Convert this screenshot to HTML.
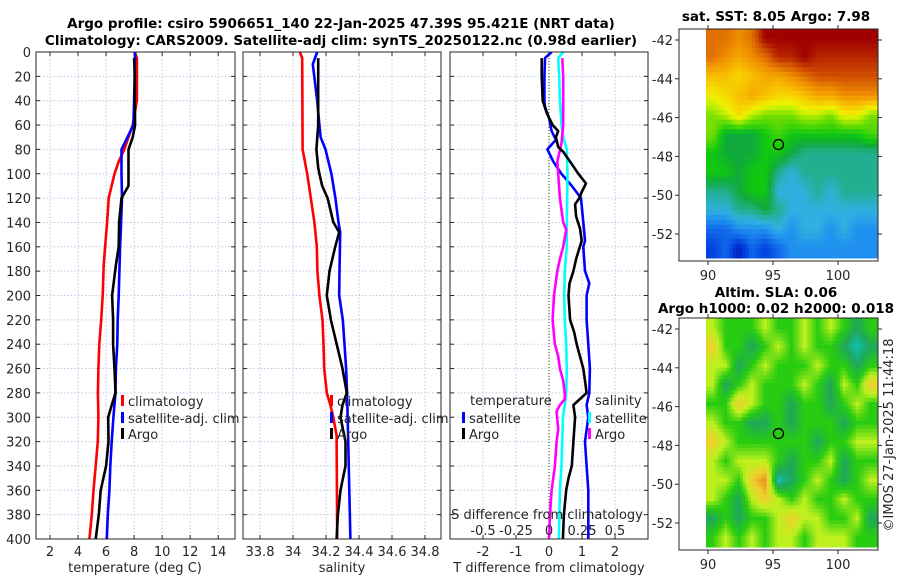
<!DOCTYPE html>
<html><head><meta charset="utf-8">
<style>
html,body{margin:0;padding:0;background:#fff;}
svg{display:block;font-family:"DejaVu Sans","Liberation Sans",sans-serif;}
.tk{font-size:13px;fill:#262626;}
.ti{font-size:13.5px;font-weight:bold;fill:#000;}
</style></head>
<body>
<svg id="fig" width="900" height="580" viewBox="0 0 900 580" xmlns="http://www.w3.org/2000/svg">
<text class="ti" x="341" y="28" text-anchor="middle">Argo profile: csiro 5906651_140 22-Jan-2025 47.39S 95.421E (NRT data)</text>
<text class="ti" x="341" y="45" text-anchor="middle">Climatology: CARS2009. Satellite-adj clim: synTS_20250122.nc (0.98d earlier)</text>
<text class="ti" x="776" y="21" text-anchor="middle">sat. SST: 8.05 Argo: 7.98</text>
<text class="ti" x="776" y="297" text-anchor="middle">Altim. SLA: 0.06</text>
<text class="ti" x="776" y="313" text-anchor="middle">Argo h1000: 0.02 h2000: 0.018</text>
<text class="tk" transform="translate(893,435) rotate(-90)" text-anchor="middle">©IMOS 27-Jan-2025 11:44:18</text>
<g id="layer"></g>
</svg>
<script>
// ---- profile data ----
const depthTicks=[0,20,40,60,80,100,120,140,160,180,200,220,240,260,280,300,320,340,360,380,400];
const tTicks=[2,4,6,8,10,12,14];
const sTicks=[33.8,34,34.2,34.4,34.6,34.8];
const sTickLabels=["33.8","34","34.2","34.4","34.6","34.8"];
const dTicks=[-2,-1,0,1,2];
const sdTickLabels=["-0.5","-0.25","0","0.25","0.5"];
const sdTicks=[-0.5,-0.25,0,0.25,0.5];

const tClimDepth=[0,5,40,60,80,90,100,120,140,160,175,200,220,240,260,280,300,320,340,360,380,400];
const tClim=[8.05,8.2,8.2,7.9,7.3,6.9,6.6,6.19,6.07,5.93,5.83,5.76,5.65,5.52,5.45,5.42,5.45,5.41,5.26,5.1,4.98,4.81];
const tSatDepth=[0,40,60,80,100,120,140,160,200,220,240,260,280,300,320,340,360,380,400];
const tSat=[8.07,8.0,7.95,7.1,7.1,7.14,7.07,7.0,6.9,6.83,6.8,6.7,6.67,6.52,6.4,6.3,6.24,6.12,6.05];
const tArgoDepth=[5,20,40,60,70,80,100,110,120,140,160,175,200,220,240,260,280,290,300,320,340,360,380,400];
const tArgo=[8.0,8.05,8.05,8.07,7.9,7.6,7.6,7.6,7.1,6.93,6.9,6.7,6.43,6.5,6.5,6.6,6.67,6.4,6.15,6.17,6.0,5.62,5.48,5.26];

const sClimDepth=[0,5,80,100,120,140,160,180,200,220,240,260,280,290,300,315,400];
const sClim=[34.041,34.056,34.058,34.086,34.108,34.13,34.144,34.148,34.16,34.179,34.185,34.189,34.205,34.227,34.244,34.264,34.268];
const sSatDepth=[0,10,40,60,70,80,100,120,140,148,180,200,220,240,260,280,400];
const sSat=[34.147,34.12,34.147,34.16,34.167,34.197,34.233,34.257,34.276,34.286,34.282,34.28,34.302,34.312,34.322,34.328,34.348];
const sArgoDepth=[5,60,80,95,100,110,120,140,148,160,180,200,220,240,260,280,290,300,320,340,360,380,400];
const sArgo=[34.153,34.153,34.142,34.153,34.16,34.177,34.21,34.245,34.28,34.256,34.221,34.205,34.23,34.265,34.3,34.326,34.3,34.288,34.318,34.318,34.288,34.272,34.264];

const tdArgoDepth=[5,20,40,50,60,65,70,78,82,90,100,108,115,120,125,135,145,155,170,180,190,200,220,230,240,260,270,280,285,290,300,320,340,350,360,380,400];
const tdArgo=[-0.22,-0.22,-0.19,-0.07,0.11,0.28,0.21,0.28,0.43,0.64,0.89,1.12,0.99,0.92,0.79,0.82,0.94,0.99,0.82,0.74,0.62,0.59,0.64,0.76,0.84,1.04,1.09,1.14,0.94,0.74,0.79,0.74,0.69,0.59,0.52,0.45,0.42];
const tdSatDepth=[0,5,20,40,60,70,80,100,140,160,180,200,220,240,260,280,290,300,340,360,400];
const tdSat=[0.43,0.28,0.31,0.33,0.38,0.43,0.54,0.56,0.54,0.54,0.48,0.46,0.48,0.52,0.54,0.52,0.48,0.42,0.38,0.33,0.30];
const sdSatDepth=[0,5,20,40,45,55,65,72,80,90,100,110,120,140,155,160,180,190,200,220,240,260,280,290,300,320,340,360,380,400];
const sdSat=[0.02,-0.03,-0.035,-0.035,-0.03,0.0025,0.02,0.0525,-0.0125,0.0325,0.095,0.1725,0.2425,0.26,0.2725,0.26,0.2725,0.305,0.285,0.285,0.2975,0.31,0.305,0.285,0.2975,0.2725,0.285,0.2975,0.2975,0.2975];
const sdArgoDepth=[5,20,60,75,90,100,120,140,146,160,170,180,200,220,240,250,260,270,280,285,290,295,310,320,340,360,380,400];
const sdArgo=[0.1,0.1075,0.1075,0.095,0.0625,0.07,0.0825,0.1075,0.13,0.1075,0.0825,0.0625,0.0375,0.0275,0.045,0.07,0.0825,0.1075,0.12,0.12,0.0825,0.0575,0.07,0.0575,0.045,0.02,0.0075,0.0];

// ---- map grids (lon 90..103, lat -41.4..-53.2) ----
const sstGrid=[
[8.5,8.5,8,8.5,10,10,10,10,10,10,10,10,10],
[8.5,8,7.5,8,8.5,9.5,9.5,10,9.5,9.5,9.5,9.5,9.5],
[7,7,6.5,7,7.5,7.5,8,8.5,9,9,9,9,9],
[6,6.5,7,7.5,7,6.5,6.5,7,7.5,7.5,8,8,8],
[5,5.5,6.5,5.5,5,5,5,5.5,5.5,5,6,6,5],
[5,3.5,3.5,3.5,4,4.5,4,4,4,4,4,4,4.5],
[4,3.5,3.5,3.5,4,4,3.5,3,3,3,3,3,3],
[4,4,3.5,4,4,3,2.5,3,3,3,3,3,3],
[3,3,3.5,4,4,2.5,2.5,2.5,3,2.5,3,3,3],
[2.5,2.5,3,3,3.5,3,2.5,2.5,2.5,2.5,2.5,2.5,2.5],
[1.5,1.5,2,2,2,2.5,2,2.5,2.5,2,2.5,2,2],
[1,1.5,0.5,1.5,1,1.5,2,2,2,2,2,2,2]];
const slaGrid=[
[1,0,0,0,1,0,0,1,0,1,0,-1,0],
[2,0,0,-1,0,1,0,1,0,0,-1,-2,-1],
[1,1,-1,0,1,0,0,0,1,0,0,-1,0],
[1,-1,0,1,0,0,0,1,0,-1,1,0,2],
[0,0,2,1,0,0,-1,0,0,-1,0,1,0],
[1,0,0,-1,-1,0,-1,0,0,0,-1,0,0],
[2,1,0,0,0,0,0,0,-1,0,0,1,1],
[1,0,1,1,1,0,-1,0,0,1,-1,0,0],
[1,1,0,2,3,-2,-1,0,1,0,-1,0,1],
[1,0,-1,1,2,1,0,1,0,0,1,0,0],
[-1,0,-1,0,0,1,2,1,1,0,0,1,-1],
[0,1,0,1,0,1,1,0,1,1,1,0,0]];
const lonTicks=[90,95,100];
const latTicks=[-42,-44,-46,-48,-50,-52];
const argoLon=95.42, argoLat=-47.39;

const NS="http://www.w3.org/2000/svg";
const layer=document.getElementById('layer');
function mk(tag,attrs,parent){const e=document.createElementNS(NS,tag);for(const k in attrs)e.setAttribute(k,attrs[k]);(parent||layer).appendChild(e);return e;}

const PT=52,PB=539;
const yD=d=>PT+(PB-PT)*d/400;

function panel(name,x0,x1,xmin,xmax){
  const g=mk('g',{});
  
  
  mk('rect',{x:x0,y:PT,width:x1-x0,height:PB-PT,fill:'#fff'},g);
  const sx=v=>x0+(x1-x0)*(v-xmin)/(xmax-xmin);
  const cid='clip-'+name;
  const cp=mk('clipPath',{id:cid},g);mk('rect',{x:x0,y:PT,width:x1-x0,height:PB-PT},cp);
  return {g,sx,x0,x1,cid};
}
function grid(p,xt){
  xt.forEach(v=>{const x=p.sx(v);const l=mk('line',{x1:x,x2:x,y1:PT,y2:PB,stroke:'#c0c8e6','stroke-dasharray':'1.5,2','stroke-width':1},p.g);});
  depthTicks.forEach(d=>{const y=yD(d);const l=mk('line',{x1:p.x0,x2:p.x1,y1:y,y2:y,stroke:'#c0c8e6','stroke-dasharray':'1.5,2','stroke-width':1},p.g);
    mk('line',{x1:p.x0,x2:p.x0+4,y1:y,y2:y,stroke:'#262626'},p.g);mk('line',{x1:p.x1-4,x2:p.x1,y1:y,y2:y,stroke:'#262626'},p.g);});
  xt.forEach(v=>{const x=p.sx(v);mk('line',{x1:x,x2:x,y1:PB-4,y2:PB,stroke:'#262626'},p.g);mk('line',{x1:x,x2:x,y1:PT,y2:PT+4,stroke:'#262626'},p.g);});
}
function frame(p){const r=mk('rect',{x:p.x0,y:PT,width:p.x1-p.x0,height:PB-PT,fill:'none',stroke:'#262626','stroke-width':1},p.g);}
function series(p,name,ds,vs,col,fx){
  const pts=ds.map((d,i)=>fx(vs[i]).toFixed(1)+','+yD(d).toFixed(1)).join(' ');
  const l=mk('polyline',{points:pts,fill:'none',stroke:col,'stroke-width':2.6,'stroke-linejoin':'round','clip-path':'url(#'+p.cid+')'},p.g);
  
  
}
function txt(p,s,x,y,anchor,name,cls){const t=mk('text',{x:x,y:y,'text-anchor':anchor||'start',class:cls||'tk'},p?p.g:layer);t.textContent=s;return t;}
function legendItem(p,x,y,col,label,name){const r=mk('rect',{x:x,y:y-6,width:3,height:11,fill:col},p.g);txt(p,label,x+7,y+5,'start',name);}

// Panel 1 temperature
const p1=panel('temperature-panel',36,235,1,15.2);
grid(p1,tTicks);
series(p1,'temp-climatology-line',tClimDepth,tClim,'#ff0000',p1.sx);
series(p1,'temp-satellite-line',tSatDepth,tSat,'#0000ff',p1.sx);
series(p1,'temp-argo-line',tArgoDepth,tArgo,'#000000',p1.sx);
frame(p1);
depthTicks.forEach(d=>txt(p1,String(d),31,yD(d)+5,'end','depth-tick-label'));
tTicks.forEach(v=>txt(p1,String(v),p1.sx(v),556,'middle','temp-tick-label'));
txt(p1,'temperature (deg C)',135,572,'middle','x-axis-title-temperature');
legendItem(p1,121,401,'#ff0000','climatology','legend-climatology');
legendItem(p1,121,418,'#0000ff','satellite-adj. clim','legend-satellite-adj');
legendItem(p1,121,434,'#000000','Argo','legend-argo');

// Panel 2 salinity
const p2=panel('salinity-panel',243,441,33.697,34.897);
grid(p2,sTicks);
series(p2,'sal-climatology-line',sClimDepth,sClim,'#ff0000',p2.sx);
series(p2,'sal-satellite-line',sSatDepth,sSat,'#0000ff',p2.sx);
series(p2,'sal-argo-line',sArgoDepth,sArgo,'#000000',p2.sx);
frame(p2);
sTicks.forEach((v,i)=>txt(p2,sTickLabels[i],p2.sx(v),556,'middle','sal-tick-label'));
txt(p2,'salinity',342,572,'middle','x-axis-title-salinity');
legendItem(p2,330,401,'#ff0000','climatology','legend-climatology');
legendItem(p2,330,418,'#0000ff','satellite-adj. clim','legend-satellite-adj');
legendItem(p2,330,434,'#000000','Argo','legend-argo');

// Panel 3 differences
const p3=panel('difference-panel',450,648,-3,3);
const sxS=v=>p3.sx(v*4);
grid(p3,dTicks);
const zl=mk('line',{x1:p3.sx(0),x2:p3.sx(0),y1:PT,y2:PB,stroke:'#556b2f','stroke-dasharray':'1,2','stroke-width':1.2},p3.g);

series(p3,'sdiff-satellite-line',sdSatDepth,sdSat,'#0000ff',sxS);
series(p3,'tdiff-satellite-line',tdSatDepth,tdSat,'#00ffff',p3.sx);
series(p3,'sdiff-argo-line',sdArgoDepth,sdArgo,'#ff00ff',sxS);
series(p3,'tdiff-argo-line',tdArgoDepth,tdArgo,'#000000',p3.sx);
frame(p3);
dTicks.forEach(v=>txt(p3,String(v),p3.sx(v),556,'middle','tdiff-tick-label'));
txt(p3,'T difference from climatology',549,572,'middle','x-axis-title-tdiff');
txt(p3,'S difference from climatology',547,519,'middle','sdiff-axis-title');
sdTicks.forEach((v,i)=>txt(p3,sdTickLabels[i],sxS(v),535,'middle','sdiff-tick-label'));
txt(p3,'temperature',470,405,'start','legend-temperature-header');
legendItem(p3,462,418,'#0000ff','satellite','legend-t-satellite');
legendItem(p3,462,434,'#000000','Argo','legend-t-argo');
txt(p3,'salinity',595,405,'start','legend-salinity-header');
legendItem(p3,588,418,'#00ffff','satellite','legend-s-satellite');
legendItem(p3,588,434,'#ff00ff','Argo','legend-s-argo');

// ---- maps ----
function lerpStops(stops,v){
  if(v<=stops[0][0])return 'rgb('+stops[0][1].join(',')+')';
  for(let i=1;i<stops.length;i++){if(v<=stops[i][0]){const a=stops[i-1],b=stops[i],t=(v-a[0])/(b[0]-a[0]);return 'rgb('+a[1].map((c,k)=>Math.round(c+(b[1][k]-c)*t)).join(',')+')';}}
  return 'rgb('+stops[stops.length-1][1].join(',')+')';
}
const sstStops=[[0,[0,0,150]],[1,[0,64,224]],[2,[32,144,240]],[2.5,[48,176,224]],[3,[32,176,144]],[3.5,[16,170,60]],[4,[16,200,16]],[5,[120,224,0]],[5.5,[190,240,0]],[6,[240,240,0]],[7,[248,192,0]],[8,[240,144,0]],[9,[208,80,0]],[10,[160,0,0]]];
const slaStops=[[-2,[16,192,176]],[-1,[32,168,90]],[0,[40,204,16]],[1,[190,240,30]],[2,[240,208,48]],[3,[232,144,32]]];
function sstColor(v){return lerpStops(sstStops,v);}
function slaColor(v){return lerpStops(slaStops,v);}
function sample(gv,fx,fy){
  const rows=gv.length,cols=gv[0].length;
  const x=Math.min(Math.max(fx-0.5,0),cols-1),y=Math.min(Math.max(fy-0.5,0),rows-1);
  const i0=Math.floor(x),j0=Math.floor(y),i1=Math.min(i0+1,cols-1),j1=Math.min(j0+1,rows-1);
  const tx=x-i0,ty=y-j0;
  return gv[j0][i0]*(1-tx)*(1-ty)+gv[j0][i1]*tx*(1-ty)+gv[j1][i0]*(1-tx)*ty+gv[j1][i1]*tx*ty;
}
function mapPanel(name,top,gridVals,colorFn,sub){
  const g=mk('g',{});
  
  
  const ax0=679,ax1=878,ay0=top,ay1=top+232;
  const lx=lon=>708+(lon-90)*13;
  const ly=lat=>top+11+(-42-lat)*19.4;
  const rows=gridVals.length,cols=gridVals[0].length;
  const cx0=706,cx1=877,cy0=top,cy1=top+229;
  const nc=cols*sub,nr=rows*sub;
  const cw=(cx1-cx0)/nc,ch=(cy1-cy0)/nr;
  for(let j=0;j<nr;j++)for(let i=0;i<nc;i++){
    const v=sample(gridVals,(i+0.5)/sub,(j+0.5)/sub);
    const r=mk('rect',{x:(cx0+i*cw).toFixed(2),y:(cy0+j*ch).toFixed(2),width:(cw+0.5).toFixed(2),height:(ch+0.5).toFixed(2),fill:colorFn(v)},g);
    
    
  }
  const fr=mk('rect',{x:ax0,y:ay0,width:ax1-ax0,height:ay1-ay0,fill:'none',stroke:'#262626'},g);
  
  lonTicks.forEach(v=>{const x=lx(v);mk('line',{x1:x,x2:x,y1:ay1,y2:ay1+4,stroke:'#262626'},g);mk('line',{x1:x,x2:x,y1:ay0-4,y2:ay0,stroke:'#262626'},g);
    const t=mk('text',{x:x,y:ay1+19,'text-anchor':'middle',class:'tk'},g);t.textContent=String(v);});
  latTicks.forEach(v=>{const y=ly(v);mk('line',{x1:ax0-4,x2:ax0,y1:y,y2:y,stroke:'#262626'},g);mk('line',{x1:ax1,x2:ax1+4,y1:y,y2:y,stroke:'#262626'},g);
    const t=mk('text',{x:673,y:y+5,'text-anchor':'end',class:'tk'},g);t.textContent=String(v);});
  const c=mk('circle',{cx:lx(argoLon),cy:ly(argoLat),r:5,fill:'none',stroke:'#000','stroke-width':1.3},g);
  
  
}
mapPanel('sst-map',29,sstGrid,sstColor,4);
mapPanel('sla-map',318,slaGrid,slaColor,5);
</script>
</body></html>
